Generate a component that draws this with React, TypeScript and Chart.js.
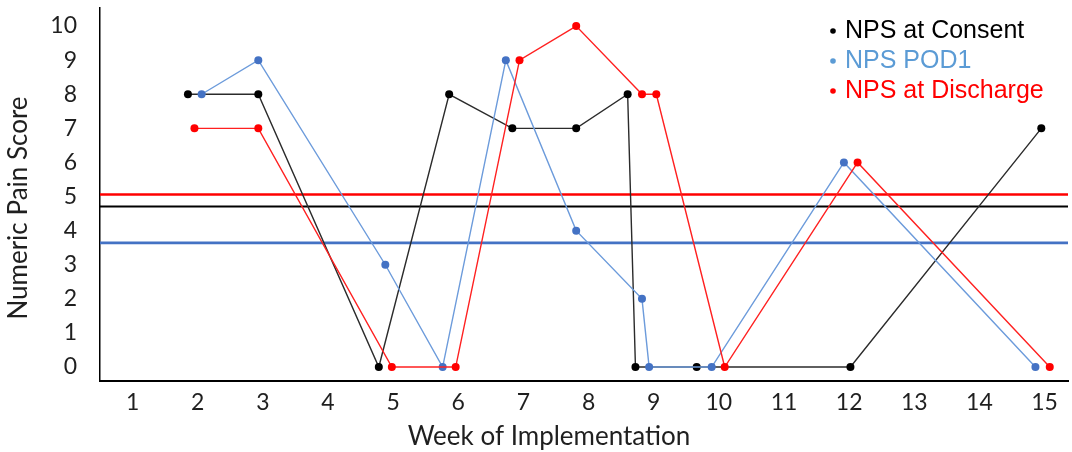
import { useEffect, useRef } from "react";
import { Chart, registerables } from "chart.js";

Chart.register(...registerables);

const weekTicks = [1, 2, 3, 4, 5, 6, 7, 8, 9, 10, 11, 12, 13, 14, 15];
const scoreTicks = [0, 1, 2, 3, 4, 5, 6, 7, 8, 9, 10];

const consentWeek = [1.85, 2.93, 4.78, 5.86, 6.83, 7.81, 8.6, 8.72, 9.66, 12.02, 14.95];
const consentScore = [8, 8, 0, 8, 7, 7, 8, 0, 0, 0, 7];

const pod1Week = [2.06, 2.93, 4.88, 5.76, 6.73, 7.81, 8.82, 8.93, 9.89, 11.92, 14.86];
const pod1Score = [8, 9, 3, 0, 9, 4, 2, 0, 0, 6, 0];

const dischargeWeek = [1.95, 2.93, 4.98, 5.96, 6.94, 7.81, 8.82, 9.04, 10.09, 12.13, 15.08];
const dischargeScore = [7, 7, 0, 0, 9, 10, 8, 8, 0, 6, 0];

const meanConsent = 4.71;
const meanPod1 = 3.64;
const meanDischarge = 5.06;

const seriesNames = ["NPS at Consent", "NPS POD1", "NPS at Discharge"];
const legendColors = ["#000000", "#5B9BD5", "#FF0000"];

const xTitle = "Week of Implementation";
const yTitle = "Numeric Pain Score";

const toPoints = (xs: number[], ys: number[]) => xs.map((x, i) => ({ x, y: ys[i] }));

const meanLinesPlugin = {
  id: "meanLines",
  beforeDatasetsDraw(chart: any) {
    const { ctx, chartArea, scales } = chart;
    const lines = [
      { v: meanDischarge, c: "#FF0000", w: 2.6 },
      { v: meanConsent, c: "#000000", w: 2 },
      { v: meanPod1, c: "#4472C4", w: 2.6 },
    ];
    ctx.save();
    for (const l of lines) {
      const y = scales.y.getPixelForValue(l.v);
      ctx.strokeStyle = l.c;
      ctx.lineWidth = l.w;
      ctx.beginPath();
      ctx.moveTo(chartArea.left, y);
      ctx.lineTo(chartArea.right, y);
      ctx.stroke();
    }
    ctx.restore();
  },
};

const decorPlugin = {
  id: "decor",
  afterDraw(chart: any) {
    const { ctx, chartArea } = chart;
    ctx.save();
    ctx.fillStyle = "#1f1f1f";
    ctx.font = "26px Lato";
    ctx.textAlign = "center";
    ctx.textBaseline = "middle";
    ctx.fillText(xTitle, chartArea.left + 449, chartArea.bottom + 56);
    ctx.save();
    ctx.translate(18.5, chartArea.top + 200);
    ctx.rotate(-Math.PI / 2);
    ctx.fillText(yTitle, 0, 0);
    ctx.restore();
    ctx.font = "25px 'Liberation Sans'";
    ctx.textAlign = "left";
    const lx = chartArea.right - 235;
    for (let i = 0; i < seriesNames.length; i++) {
      const y = chartArea.top + 23 + i * 30;
      ctx.fillStyle = legendColors[i];
      ctx.beginPath();
      ctx.arc(lx, y, 2.8, 0, Math.PI * 2);
      ctx.fill();
      ctx.fillText(seriesNames[i], lx + 12, y);
    }
    ctx.restore();
  },
};

export default function App() {
  const ref = useRef<HTMLCanvasElement>(null);
  useEffect(() => {
    document.body.style.margin = "0";
    const chart = new Chart(ref.current!, {
      type: "scatter",
      data: {
        datasets: [
          {
            label: seriesNames[0],
            data: toPoints(consentWeek, consentScore),
            showLine: true,
            borderColor: "#2b2b2b",
            backgroundColor: "#000000",
            pointBackgroundColor: "#000000",
            pointBorderColor: "#000000",
            borderWidth: 1.4,
            pointRadius: 4,
            pointBorderWidth: 0,
            order: 3,
          },
          {
            label: seriesNames[1],
            data: toPoints(pod1Week, pod1Score),
            showLine: true,
            borderColor: "#6C9BDB",
            backgroundColor: "#4472C4",
            pointBackgroundColor: "#4472C4",
            pointBorderColor: "#4472C4",
            borderWidth: 1.4,
            pointRadius: 4,
            pointBorderWidth: 0,
            order: 2,
          },
          {
            label: seriesNames[2],
            data: toPoints(dischargeWeek, dischargeScore),
            showLine: true,
            borderColor: "#FF2020",
            backgroundColor: "#FF0000",
            pointBackgroundColor: "#FF0000",
            pointBorderColor: "#FF0000",
            borderWidth: 1.4,
            pointRadius: 4,
            pointBorderWidth: 0,
            order: 1,
          },
        ],
      },
      options: {
        animation: false,
        responsive: true,
        maintainAspectRatio: false,
        layout: { padding: { top: 8, right: 0, left: 0, bottom: 0 } },
        plugins: {
          legend: { display: false },
          tooltip: { enabled: false },
        },
        scales: {
          x: {
            type: "linear",
            min: 0.5,
            max: 15.36,
            afterBuildTicks: (s: any) => {
              s.ticks = weekTicks.map((v) => ({ value: v }));
            },
            afterFit: (s: any) => {
              s.height = 71;
              s.paddingLeft = 0;
              s.paddingRight = 0;
            },
            grid: { display: false, drawTicks: false },
            border: { display: true, color: "#000000", width: 2 },
            ticks: {
              color: "#1f1f1f",
              font: { family: "Lato", size: 23 },
              padding: 8,
              maxRotation: 0,
              autoSkip: false,
            },
          },
          y: {
            type: "linear",
            min: -0.41,
            max: 10.53,
            afterBuildTicks: (s: any) => {
              s.ticks = scoreTicks.map((v) => ({ value: v }));
            },
            afterFit: (s: any) => {
              s.width = 100;
              s.paddingTop = 0;
              s.paddingBottom = 0;
            },
            grid: { display: false, drawTicks: false },
            border: { display: true, color: "#000000", width: 1.5 },
            ticks: {
              color: "#1f1f1f",
              font: { family: "Lato", size: 23 },
              padding: 23,
              autoSkip: false,
            },
          },
        },
      },
      plugins: [meanLinesPlugin, decorPlugin],
    });
    return () => chart.destroy();
  }, []);
  return (
    <div style={{ position: "relative", width: 1072, height: 452 }}>
      <canvas ref={ref} />
    </div>
  );
}
